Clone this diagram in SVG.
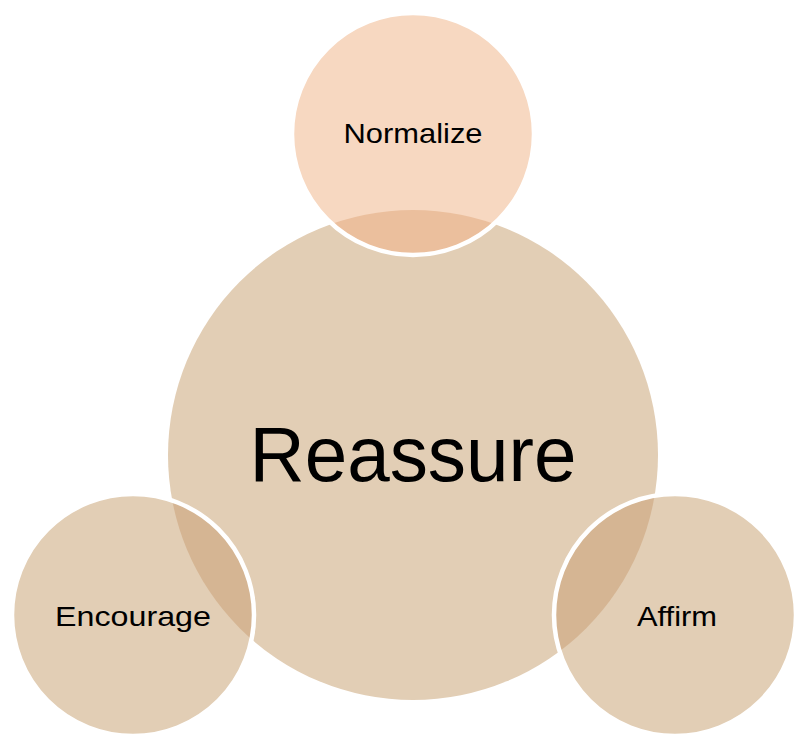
<svg xmlns="http://www.w3.org/2000/svg" width="799" height="734" viewBox="0 0 799 734">
<style>
.lbl{font-family:"Liberation Sans",Arial,sans-serif;fill:#000;text-anchor:middle}
.sm{font-size:28px}
.ring{fill:none;stroke:#fff;stroke-width:4.5}
</style>
<defs>
<clipPath id="bigclip"><circle cx="413" cy="455" r="245"/></clipPath>
</defs>
<rect width="799" height="734" fill="#fff"/>
<g id="reassure">
<circle cx="413" cy="455" r="245" fill="#E2CEB5"/>
<text class="lbl" x="413" y="481" font-size="77" textLength="327" lengthAdjust="spacingAndGlyphs">Reassure</text>
</g>
<g id="normalize">
<circle cx="413" cy="134" r="121" fill="#F7D8C1"/>
<circle cx="413" cy="134" r="121" fill="#EBBF9D" clip-path="url(#bigclip)"/>
<circle class="ring" cx="413" cy="134" r="121"/>
<text class="lbl sm" x="413" y="143" textLength="139" lengthAdjust="spacingAndGlyphs">Normalize</text>
</g>
<g id="encourage">
<circle cx="133" cy="615" r="121" fill="#E2CEB5"/>
<circle cx="133" cy="615" r="121" fill="#D5B593" clip-path="url(#bigclip)"/>
<circle class="ring" cx="133" cy="615" r="121"/>
<text class="lbl sm" x="133" y="626" textLength="156" lengthAdjust="spacingAndGlyphs">Encourage</text>
</g>
<g id="affirm">
<circle cx="675" cy="615" r="121" fill="#E2CEB5"/>
<circle cx="675" cy="615" r="121" fill="#D5B593" clip-path="url(#bigclip)"/>
<circle class="ring" cx="675" cy="615" r="121"/>
<text class="lbl sm" x="677" y="626" textLength="80" lengthAdjust="spacingAndGlyphs">Affirm</text>
</g>
<g id="connectors"/>
</svg>
